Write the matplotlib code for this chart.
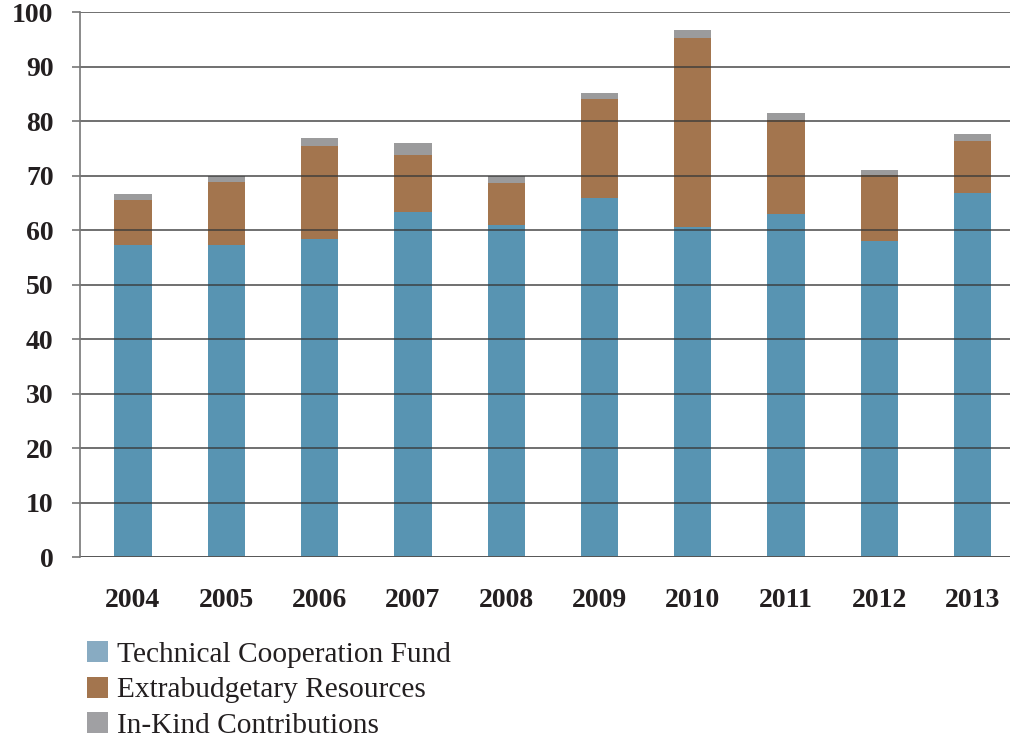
import matplotlib
matplotlib.use("Agg")
import matplotlib.pyplot as plt
from matplotlib.patches import Patch
import numpy as np

years = ["2004", "2005", "2006", "2007", "2008", "2009", "2010", "2011", "2012", "2013"]
tc_fund = [57.2, 57.2, 58.3, 63.3, 60.9, 65.8, 60.6, 63.0, 58.0, 66.8]
extrabudgetary = [8.4, 11.6, 17.1, 10.5, 7.7, 18.2, 34.6, 17.2, 12.1, 9.6]
in_kind = [1.1, 1.2, 1.4, 2.1, 1.4, 1.1, 1.5, 1.2, 1.0, 1.3]

series_names = ["Technical Cooperation Fund", "Extrabudgetary Resources", "In-Kind Contributions"]
colors = ["#5894b2", "#a3754e", "#9b9b9c"]
legend_colors = ["#88abc2", "#a3754e", "#a0a0a3"]  # swatches look a touch paler

plt.rcParams["font.family"] = ["Liberation Serif", "DejaVu Serif"]

fig = plt.figure(figsize=(10.14, 7.42), dpi=100)
ax = fig.add_axes([0.0789, 0.2493, 0.9171, 0.7345])

x = np.arange(len(years))
bottom = np.zeros(len(years))
for vals, col in zip([tc_fund, extrabudgetary, in_kind], colors):
    ax.bar(x, vals, width=0.4, bottom=bottom, color=col, zorder=1)
    bottom += np.array(vals)

ax.set_ylim(0, 100)
ax.set_xlim(-0.568, 9.40)
ax.set_yticks(np.arange(0, 101, 10))
ax.set_xticks(x)
ax.set_xticklabels(years)

# gridlines over the bars, like the original
for yv in np.arange(10, 101, 10):
    ax.axhline(yv, color="#3a3a3a", lw=1.2, zorder=2, alpha=0.85)
ax.axhline(0, color="#555555", lw=1.4, zorder=2)

for s in ["top", "right", "bottom"]:
    ax.spines[s].set_visible(False)
ax.spines["left"].set_color("#777777")
ax.spines["left"].set_linewidth(1.2)

ax.tick_params(axis="y", length=6, width=1.2, color="#777777", pad=13,
               labelsize=20, labelcolor="#231f20")
ax.tick_params(axis="x", length=0, pad=22, labelsize=20, labelcolor="#231f20")
for lbl in ax.get_xticklabels() + ax.get_yticklabels():
    lbl.set_fontweight("bold")

handles = [Patch(facecolor=c, edgecolor="none") for c in legend_colors]
fig.legend(handles, series_names, loc="upper left", bbox_to_anchor=(0.086, 0.136),
           frameon=False, fontsize=21.2, handlelength=0.72, handleheight=0.72,
           handletextpad=0.3, labelspacing=0.3, borderaxespad=0, borderpad=0,
           labelcolor="#231f20")

fig.savefig("out.png", dpi=100)
